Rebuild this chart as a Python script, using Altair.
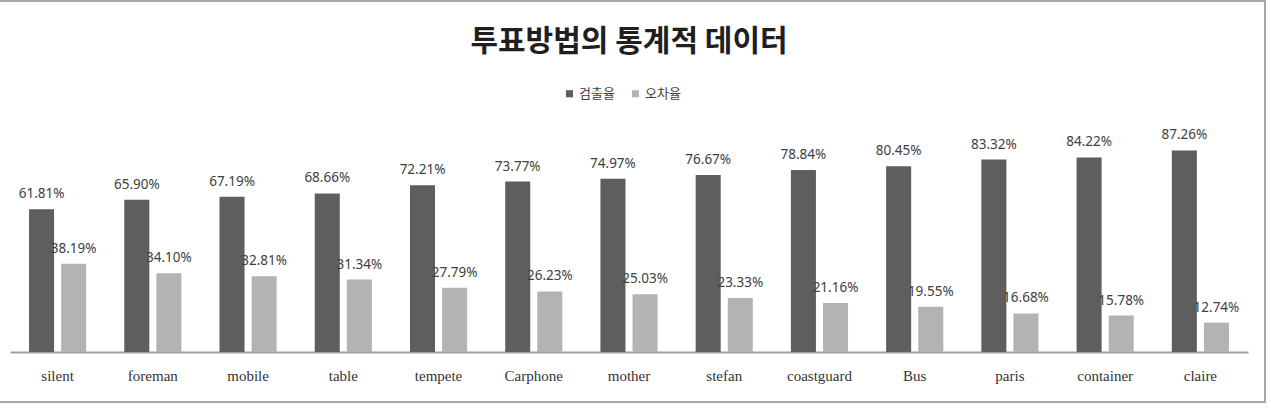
import altair as alt
import pandas as pd

categories = ["silent", "foreman", "mobile", "table", "tempete", "Carphone", "mother",
              "stefan", "coastguard", "Bus", "paris", "container", "claire"]
detect = [61.81, 65.90, 67.19, 68.66, 72.21, 73.77, 74.97, 76.67, 78.84, 80.45, 83.32, 84.22, 87.26]
error = [38.19, 34.10, 32.81, 31.34, 27.79, 26.23, 25.03, 23.33, 21.16, 19.55, 16.68, 15.78, 12.74]
series = ["검출율", "오차율"]
colors = ["#5e5e5e", "#b3b3b3"]

rows = []
for c, d, e in zip(categories, detect, error):
    rows.append({"cat": c, "series": series[0], "value": d, "label": f"{d:.2f}%"})
    rows.append({"cat": c, "series": series[1], "value": e, "label": f"{e:.2f}%"})
df = pd.DataFrame(rows)

W, H = 1238, 231

base = alt.Chart(df).encode(
    x=alt.X("cat:N", sort=categories, title=None,
            scale=alt.Scale(paddingInner=0.4, paddingOuter=0.2),
            axis=alt.Axis(domainColor="#a0a0a0", domainWidth=2, ticks=False,
                          labelFont="Liberation Serif", labelFontSize=15,
                          labelColor="#333333", labelAngle=0, labelPadding=16)),
    xOffset=alt.XOffset("series:N", sort=series,
                        scale=alt.Scale(paddingInner=0.22, paddingOuter=0)),
    y=alt.Y("value:Q", scale=alt.Scale(domain=[0, 100]), axis=None),
)

bars = base.mark_bar().encode(
    color=alt.Color("series:N", sort=series,
                    scale=alt.Scale(domain=series, range=colors),
                    legend=alt.Legend(title=None, orient="none", direction="horizontal",
                                      legendX=553, legendY=-34,
                                      symbolType="square", symbolSize=50,
                                      symbolStrokeWidth=0,
                                      labelFont="Noto Sans CJK KR", labelFontSize=13,
                                      labelColor="#404040", columnPadding=14,
                                      symbolOffset=0, labelOffset=3))
)

labels = base.mark_text(baseline="alphabetic", dy=-11, font="Noto Sans", fontSize=13.5,
                        color="#404040").encode(text="label:N")

border = alt.Chart(alt.Data(values=[{}])).mark_rect(
    fill=None, stroke="#a6a6a6", strokeWidth=2
).encode(x=alt.value(-12), x2=alt.value(1255), y=alt.value(-120), y2=alt.value(281))

chart = alt.layer(border, bars, labels).properties(
    width=W, height=H,
    title=alt.TitleParams("투표방법의 통계적 데이터", font="Noto Sans CJK KR", fontSize=30,
                          fontWeight="bold", color="#1f1f1f", anchor="middle",
                          frame="group", baseline="bottom", offset=-87),
    padding={"left": 10, "top": 121, "right": 23, "bottom": 64},
    autosize=alt.AutoSizeParams(type="none"),
    background="white",
).configure_view(stroke=None)

chart.save("out.html", embed_options={"renderer": "svg", "actions": False})
